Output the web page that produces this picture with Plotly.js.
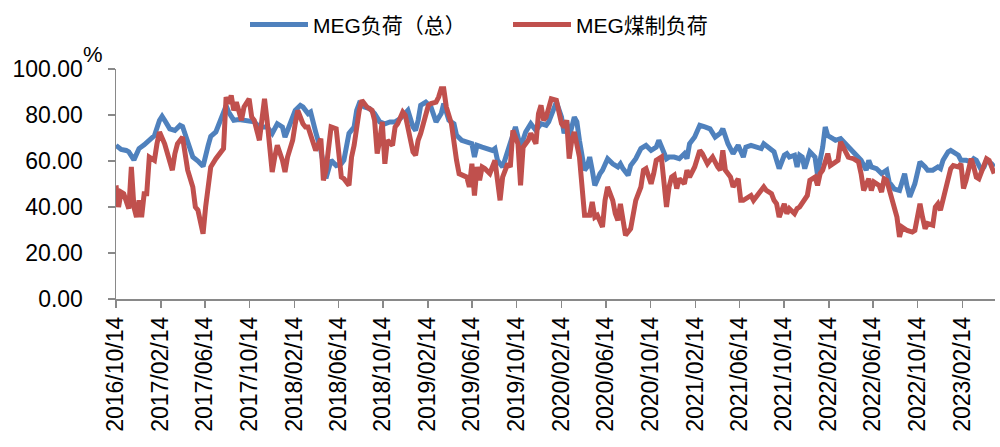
<!DOCTYPE html>
<html><head><meta charset="utf-8">
<script src="https://cdn.plot.ly/plotly-3.0.1.min.js"></script>
<style>html,body{margin:0;padding:0;background:#fff}#chart{width:1000px;height:447px}</style>
</head><body><div id="chart"></div>
<script>
// Weekly series starting Friday 2016/10/14; x values are week numbers from the start date
const startDate = [2016, 9, 14];
const seriesNames = ['MEG负荷（总）', 'MEG煤制负荷'];
const yUnit = '%';

const totalWeeks = [0,2,4,5,7,9,11,13,15,17,18,19,21,23,25,26,28,30,32,34,36,37,39,41,43,44,46,48,50,52,54,56,59,61,63,65,66,68,70,72,73,75,76,78,80,82,84,86,88,89,90,91,93,94,95,97,99,101,103,105,107,109,111,113,114,116,117,118,119,121,123,125,127,128,130,132,133,135,137,139,140,141,143,145,147,148,149,151,153,155,156,158,160,162,164,166,168,169,171,172,174,175,176,177,179,180,181,183,184,185,186,187,189,190,192,194,196,197,198,200,201,203,205,207,209,211,212,213,215,216,218,220,222,223,224,226,228,230,232,234,236,237,239,241,243,245,246,248,250,252,253,255,257,258,259,261,262,263,265,266,267,268,269,270,271,273,274,275,276,277,278,280,281,283,285,286,287,289,290,291,293,294,295,297,299,301,302,303,304,306,307,308,309,310,312,313,314,316,317,318,319,321,322,323,325,326,327,329,330,331,332,334,335,336,338,339,340,342,343];
const totalLoad = [66.8,65,64.6,64,60.5,65.4,67,69,71,77.7,79.4,77.7,74,73.3,75.5,75,67.5,61.7,60,57.7,66.8,70.7,72.6,77.7,84,81.3,77.7,78,77.7,77.7,77,74.8,74.8,72,76.2,74.8,70.4,76.2,82,84.2,83.5,80.6,81.3,72.6,64.6,52.5,60.3,58,58.8,60.3,66,72,74.8,82,85,83.5,82.8,80.6,77,76.2,77,77,78.4,80.6,82,74.8,73.3,77.7,84.2,85.6,83.5,77,80.6,85,77.7,76.2,71.2,69,68.3,67.5,61.7,66.8,66,65.4,64.6,65.4,60.3,57.4,64.6,70.4,74.8,66,72.6,76.2,73.3,76.2,75.5,77,83.5,85.6,79.1,72,77.7,70.4,79.1,77,69,56,57.4,61.7,56,49.4,54.5,56,61,58.8,57.4,58.8,56.7,53.8,58,61,65.4,66.8,64.6,66,69,66,61,61.7,61.7,61,63.2,61,67.5,70.4,75.5,74.8,74,70.4,72,74,67.5,63.2,66.8,61.7,66,66.8,66,65.4,67.5,65.4,64,60.3,56.7,62.5,63.2,61.7,62.5,57.4,62.5,61.7,56.7,60.3,64,61.7,53.8,60.3,66,74.8,71,69.7,69,69.7,67.5,66,65.4,63.2,61.7,60.3,56,60.3,57.4,56.7,54.5,56,50.7,48.7,47.8,47.2,51.6,54.5,48.7,44.4,50.1,54.5,59.6,57.4,56,56,56,57.4,56.7,60.3,64,64.6,64,62.5,60.3,60.3,60.3,59.6,61,60.3,56,57.4,60.3,58.8,57.4];

const coalWeeks = [0,1,2,3,5,6,7,8,9,10,11,12,13,15,16,17,19,20,22,23,24,26,27,28,30,31,32,34,35,37,39,41,42,43,44,45,46,47,49,50,51,52,53,54,56,57,58,59,60,61,62,63,65,66,67,69,70,71,73,74,75,77,78,80,81,82,84,86,87,88,89,91,92,93,95,96,98,100,101,102,103,104,105,106,108,109,110,112,113,114,116,117,118,119,121,122,123,125,126,127,128,129,131,132,133,134,136,137,138,139,140,141,142,143,144,146,147,148,149,150,151,153,154,155,157,158,159,161,162,164,165,166,167,168,170,171,172,174,175,176,177,178,179,181,182,183,185,186,187,188,190,191,192,194,195,196,197,198,199,201,202,203,205,206,207,209,210,211,213,214,215,216,217,218,219,220,222,223,224,226,227,228,229,231,232,233,235,236,237,238,240,241,243,244,245,246,248,249,250,252,253,254,256,257,258,259,261,262,263,265,266,267,269,270,271,273,274,275,276,278,279,280,282,283,285,286,288,289,290,291,292,294,295,296,298,299,300,301,303,304,305,306,307,309,311,312,313,314,315,316,317,319,320,321,322,323,325,326,327,329,330,331,332,334,335,336,337,339,340,341,343];
const coalLoad = [49.4,40,46.5,45.8,39.3,57.4,40,35.6,42.9,35.6,45.8,45.8,61.7,60.3,67.5,72.6,67.5,63.2,56,63.2,67.5,70.4,63.2,56,48.7,40,38.6,28.4,40,57.4,61,64.6,65.4,87.8,85,88.5,82,85.6,77.7,83.5,85.6,87,79.1,77.7,69,77.7,87,77.7,66,55.2,61.7,66.8,60.3,55.2,61.7,69,76.2,82,76.2,74.8,74.8,69,64.6,69.7,51.6,56,74.8,74,63.2,53,52.3,49.4,61.7,66.8,82,86.4,83.5,82,77.7,63.2,69,77,58.8,69,66.8,74.8,76.2,81.3,79.9,74.8,63.9,62.5,69,72,80.6,84.2,85,85.6,87.8,91.4,91.4,83.5,76.2,67.5,60.3,54.5,53.8,53,48.7,58.8,45,57.4,51.6,57.4,56.7,54.5,57.4,60.3,51.6,42.9,53,58.8,57.4,73.3,67.5,49.4,66,69,72,67.5,80.6,84.2,77.7,79.1,87,86.4,86.4,76.2,74.8,77.7,61,69,72.6,61.7,45.8,36.4,36.4,42.2,35.6,36.4,31.3,42.9,48.7,42.9,37.1,34.2,41.4,35.6,27.7,30.6,37.1,42.9,48.7,56,56.7,50.1,54.5,60.3,61.7,53,40,48.7,53,53.8,48,52.3,50.1,56,53,57.4,60.3,64.6,63.2,58.8,60.3,61.7,57.4,56,64.6,56,53,48.7,52.3,42.9,42.9,43.6,45,42.9,44.4,46.5,48.7,47.2,45.8,42.9,41.4,35.6,41.4,37.1,39.3,37.1,39.3,40,42.9,45,51.6,53,49.4,54.5,56,63.2,58,58.8,60.3,68.3,64,61.7,61,60.3,59.6,54.5,47.2,52.3,47.2,50.9,49.4,46.5,52.3,51.6,44.4,40,35.6,27,31.3,29.8,29.1,29.8,35.6,41.4,35.6,30.6,32.8,32.1,40,41.4,38.6,42.9,51.6,56.7,58,57.4,58.8,48,51.6,61,57.4,53,52.3,57.4,61,60.3,54.5];

const axisEndWeek = 343.3;

function weekToDate(w) {
  const t = Date.UTC(startDate[0], startDate[1], startDate[2]) + w * 7 * 86400000;
  return new Date(t).toISOString().slice(0, 19).replace('T', ' ');
}

const FONT = 'Liberation Sans, Arial, Noto Sans CJK SC, sans-serif';
const AX = '#898989';

const traces = [
  {x: totalWeeks.map(weekToDate), y: totalLoad, name: seriesNames[0], type: 'scatter', mode: 'lines',
   line: {color: '#4F81BD', width: 5}},
  {x: coalWeeks.map(weekToDate), y: coalLoad, name: seriesNames[1], type: 'scatter', mode: 'lines',
   line: {color: '#C0504D', width: 5}}
];

const layout = {
  width: 1000, height: 447,
  margin: {l: 116, r: 5, t: 69, b: 148},
  paper_bgcolor: '#fff', plot_bgcolor: '#fff',
  font: {family: FONT, size: 22, color: '#000'},
  showlegend: true,
  legend: {orientation: 'h', xref: 'container', yref: 'container', x: 0.245, xanchor: 'left',
           y: 0.99, yanchor: 'top', font: {family: FONT, size: 21, color: '#000'},
           itemwidth: 58, entrywidth: 190},
  xaxis: {type: 'date', range: [weekToDate(0), weekToDate(axisEndWeek)],
          tick0: weekToDate(0), dtick: 'M4', tickformat: '%Y/%m/%d', tickangle: -90,
          ticks: 'outside', ticklen: 7, tickcolor: AX, tickwidth: 1.5,
          showline: true, linecolor: AX, linewidth: 1.5, showgrid: false, zeroline: false,
          tickfont: {family: FONT, size: 23, color: '#000'}},
  yaxis: {range: [0, 100], dtick: 20, tickformat: '.2f', ticks: 'outside', ticklen: 7,
          tickcolor: AX, tickwidth: 1.5, showline: true, linecolor: AX, linewidth: 1.5,
          showgrid: false, zeroline: false, ticklabelstandoff: 20,
          tickfont: {family: FONT, size: 23, color: '#000'}},
  annotations: [{text: yUnit, xref: 'paper', yref: 'paper', x: -0.026, y: 1.065,
                 xanchor: 'center', yanchor: 'middle',
                 showarrow: false, font: {family: FONT, size: 22, color: '#000'}}]
};

Plotly.newPlot('chart', traces, layout, {displayModeBar: false, staticPlot: true});
</script>
</body></html>
